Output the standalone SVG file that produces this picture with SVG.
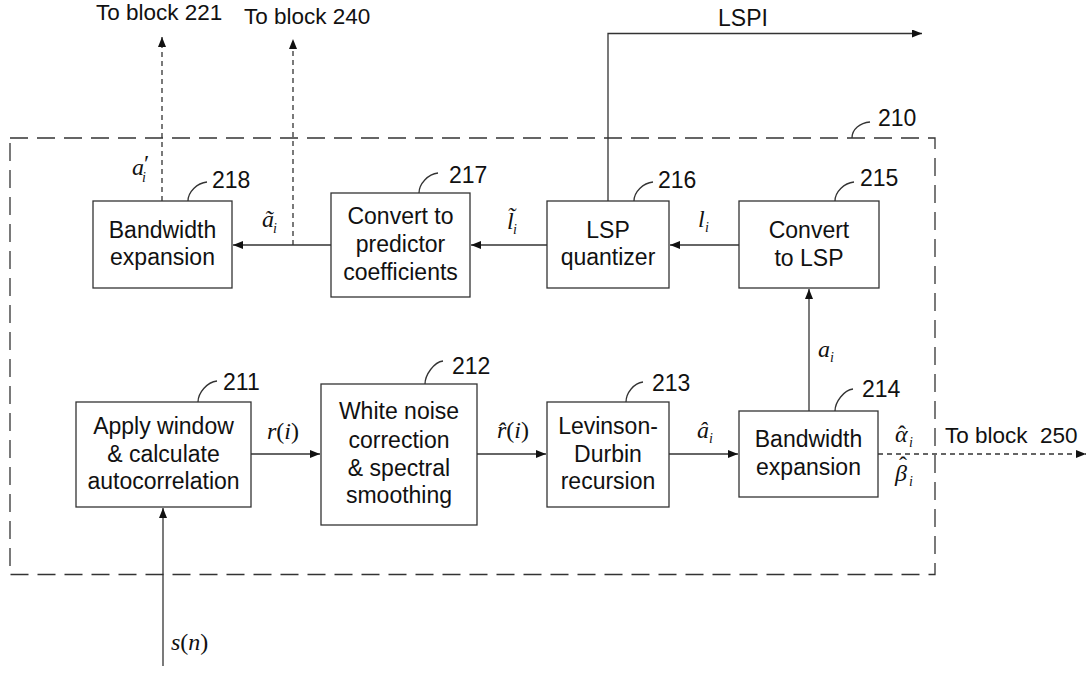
<svg xmlns="http://www.w3.org/2000/svg" width="1086" height="673" viewBox="0 0 1086 673">
<style>
.box{fill:#fff;stroke:#333;stroke-width:1.3}
.t{font-family:"Liberation Sans",Arial,sans-serif;font-size:23px;fill:#111;text-anchor:middle}
.lbl{font-family:"Liberation Sans",Arial,sans-serif;font-size:22.5px;fill:#111}
.num{font-family:"Liberation Sans",Arial,sans-serif;font-size:23px;fill:#111}
.m{font-family:"Liberation Serif","Times New Roman",serif;font-size:24px;font-style:italic;fill:#111}
.up{font-style:normal}
.sub{font-size:14px}
.ln{fill:none;stroke:#333;stroke-width:1.3}
.dl{fill:none;stroke:#333;stroke-width:1.3;stroke-dasharray:5 4}
.lead{fill:none;stroke:#333;stroke-width:1.3}
</style>
<defs>
<marker id="ah" markerUnits="userSpaceOnUse" markerWidth="10" markerHeight="8" refX="10" refY="4" orient="auto">
<path d="M0,0 L10,4 L0,8 z" fill="#111"/>
</marker>
</defs>
<rect width="1086" height="673" fill="#fff"/>

<g id="block210">
<rect x="10" y="138" width="925" height="436.5" fill="none" stroke="#333" stroke-width="1.3" stroke-dasharray="18 9"/>
<path class="lead" d="M852,138 C852,129 860,123 870,122"/>
<text class="num" x="878" y="126">210</text>
</g>

<g id="connectors">
<line class="ln" x1="331" y1="245" x2="233" y2="245" marker-end="url(#ah)"/>
<line class="ln" x1="547" y1="245" x2="471" y2="245" marker-end="url(#ah)"/>
<line class="ln" x1="739" y1="245" x2="670" y2="245" marker-end="url(#ah)"/>
<line class="ln" x1="809" y1="411" x2="809" y2="289" marker-end="url(#ah)"/>
<line class="ln" x1="251" y1="454" x2="320" y2="454" marker-end="url(#ah)"/>
<line class="ln" x1="477" y1="454" x2="546" y2="454" marker-end="url(#ah)"/>
<line class="ln" x1="669" y1="454" x2="738" y2="454" marker-end="url(#ah)"/>
<line class="ln" x1="163" y1="666" x2="163" y2="508" marker-end="url(#ah)"/>
<polyline class="ln" points="608,201 608,33.5 922,33.5" marker-end="url(#ah)"/>
<line class="dl" x1="162" y1="201" x2="162" y2="37" marker-end="url(#ah)"/>
<line class="dl" x1="293" y1="245" x2="293" y2="39" marker-end="url(#ah)"/>
<line class="dl" x1="878" y1="454" x2="1086" y2="454" marker-end="url(#ah)"/>
</g>

<g id="labels">
<text class="lbl" x="96" y="20">To block 221</text>
<text class="lbl" x="244" y="24">To block 240</text>
<text class="num" x="718" y="26">LSPI</text>
<text class="lbl" x="945" y="443" xml:space="preserve">To block  250</text>
<text class="m" x="132" y="175">a<tspan x="144" y="171" class="up">′</tspan><tspan x="142" y="182" class="sub">i</tspan></text>
<text class="m" x="262" y="227">ã<tspan x="273" y="233" class="sub">i</tspan></text>
<text class="m" x="507" y="229">l̃<tspan x="513" y="234" class="sub">i</tspan></text>
<text class="m" x="698" y="227">l<tspan x="705" y="232" class="sub">i</tspan></text>
<text class="m" x="818" y="357">a<tspan x="830" y="362" class="sub">i</tspan></text>
<text class="m" x="267" y="439">r<tspan class="up">(</tspan>i<tspan class="up">)</tspan></text>
<text class="m" x="497" y="438">r̂<tspan class="up">(</tspan>i<tspan class="up">)</tspan></text>
<text class="m" x="697" y="438">â<tspan x="709" y="443" class="sub">i</tspan></text>
<text class="m" x="895" y="442">α<tspan x="898" y="442" class="up">ˆ</tspan><tspan x="909" y="447" class="sub">i</tspan></text>
<text class="m" x="895" y="481">β<tspan x="899" y="473" class="up">ˆ</tspan><tspan x="909" y="486" class="sub">i</tspan></text>
<text class="m" x="171" y="650">s<tspan class="up">(</tspan>n<tspan class="up">)</tspan></text>
</g>

<g id="node218">
<rect class="box" x="93" y="201" width="139" height="87"/>
<text class="t" x="162.5" y="238">Bandwidth</text>
<text class="t" x="162.5" y="265">expansion</text>
<path class="lead" d="M188,201 C188,192 197,183 207,182"/>
<text class="num" x="212" y="188">218</text>
</g>

<g id="node217">
<rect class="box" x="331" y="193" width="139" height="104"/>
<text class="t" x="400.5" y="224">Convert to</text>
<text class="t" x="400.5" y="252">predictor</text>
<text class="t" x="400.5" y="280">coefficients</text>
<path class="lead" d="M419,193 C419,184 428,174 438,173"/>
<text class="num" x="449" y="183">217</text>
</g>

<g id="node216">
<rect class="box" x="547" y="201" width="122" height="87"/>
<text class="t" x="608" y="238">LSP</text>
<text class="t" x="608" y="265">quantizer</text>
<path class="lead" d="M634,201 C634,192 643,183 653,182"/>
<text class="num" x="658" y="188">216</text>
</g>

<g id="node215">
<rect class="box" x="739" y="201" width="140" height="87"/>
<text class="t" x="809" y="238">Convert</text>
<text class="t" x="809" y="266">to LSP</text>
<path class="lead" d="M835,201 C835,192 844,183 854,182"/>
<text class="num" x="860" y="186">215</text>
</g>

<g id="node211">
<rect class="box" x="76" y="402" width="175" height="105"/>
<text class="t" x="163.5" y="434">Apply window</text>
<text class="t" x="163.5" y="462">&amp; calculate</text>
<text class="t" x="163.5" y="489">autocorrelation</text>
<path class="lead" d="M198,402 C198,393 207,382 217,381"/>
<text class="num" x="223" y="390">211</text>
</g>

<g id="node212">
<rect class="box" x="321" y="384" width="156" height="141"/>
<text class="t" x="399" y="419">White noise</text>
<text class="t" x="399" y="448">correction</text>
<text class="t" x="399" y="476">&amp; spectral</text>
<text class="t" x="399" y="503">smoothing</text>
<path class="lead" d="M425,384 C425,375 434,362 443,361"/>
<text class="num" x="452" y="374">212</text>
</g>

<g id="node213">
<rect class="box" x="547" y="402" width="122" height="105"/>
<text class="t" x="608" y="434">Levinson-</text>
<text class="t" x="608" y="462">Durbin</text>
<text class="t" x="608" y="489">recursion</text>
<path class="lead" d="M626,402 C626,393 634,383 643,382"/>
<text class="num" x="652" y="391">213</text>
</g>

<g id="node214">
<rect class="box" x="739" y="411" width="139" height="86"/>
<text class="t" x="808.5" y="447">Bandwidth</text>
<text class="t" x="808.5" y="475">expansion</text>
<path class="lead" d="M835,411 C835,402 844,390 853,389"/>
<text class="num" x="862" y="397">214</text>
</g>
</svg>
